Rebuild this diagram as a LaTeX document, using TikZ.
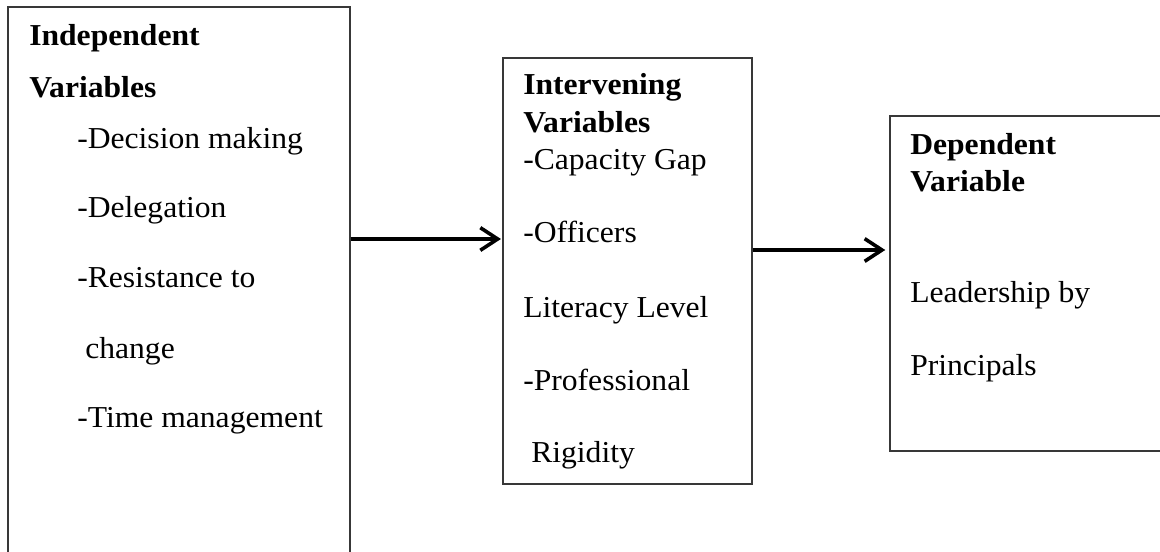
\documentclass[tikz,border=0pt]{standalone}
\usepackage{fontspec}
\setmainfont{Liberation Serif}[FakeStretch=1.04]
\usetikzlibrary{arrows.meta,fit}
\tikzset{
  box/.style={draw=black!78, line width=1.1pt, inner sep=0pt, fill=none},
  txt/.style={anchor=base west, inner sep=0pt, font=\fontsize{22.8pt}{26pt}\selectfont},
  head/.style={txt, font=\fontsize{22.8pt}{26pt}\selectfont\bfseries},
  flow/.style={line width=2.7pt, -{Straight Barb[length=13pt,width=17pt,line width=2.7pt]}}
}
\begin{document}
\begin{tikzpicture}[x=0.75pt,y=-0.75pt]
\useasboundingbox (0,0) rectangle (1160,552);
\clip (0,0) rectangle (1160,552);
\fill[white] (0,0) rectangle (1160,552);
% boxes
\node[box, fit={(8,7) (350,580)}] (b1) {};
\node[box, fit={(503,58) (752,484)}] (b2) {};
\node[box, fit={(890,116) (1180,451)}] (b3) {};
% box 1 texts
\node[head] (t1a) at (29,46) {Independent};
\node[head] (t1b) at (29,98) {Variables};
\node[txt] (t1c) at (77,149) {-Decision making};
\node[txt] (t1d) at (77,218) {-Delegation};
\node[txt] (t1e) at (77,288) {-Resistance to};
\node[txt] (t1f) at (85,358) {change};
\node[txt] (t1g) at (77,427) {-Time management};
% box 2 texts
\node[head] (t2a) at (523,95) {Intervening};
\node[head] (t2b) at (523,133) {Variables};
\node[txt] (t2c) at (523,170) {-Capacity Gap};
\node[txt] (t2d) at (523,243) {-Officers};
\node[txt] (t2e) at (523,317) {Literacy Level};
\node[txt] (t2f) at (523,390) {-Professional};
\node[txt] (t2g) at (531,462) {Rigidity};
% box 3 texts
\node[head] (t3a) at (910,155) {Dependent};
\node[head] (t3b) at (910,192) {Variable};
\node[txt] (t3c) at (910,303) {Leadership by};
\node[txt] (t3d) at (910,375) {Principals};
% connectors
\coordinate (a1) at (0,239);
\coordinate (a2) at (0,250);
\draw[flow] (b1.east |- a1) -- ([xshift=-1pt]b2.west |- a1);
\draw[flow] (b2.east |- a2) -- ([xshift=-3pt]b3.west |- a2);
\end{tikzpicture}
\end{document}
